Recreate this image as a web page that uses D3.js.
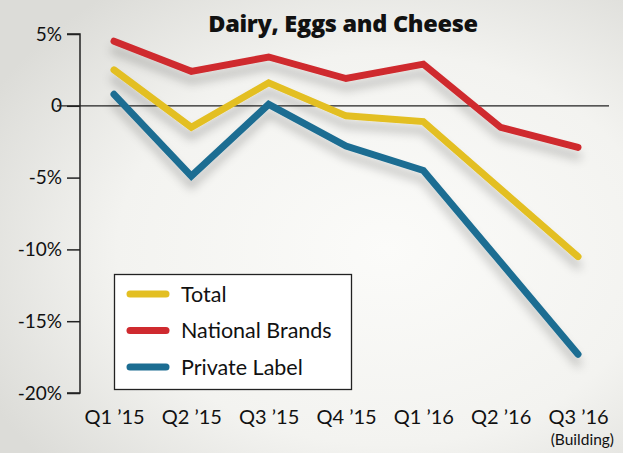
<!DOCTYPE html>
<html>
<head>
<meta charset="utf-8">
<script src="https://d3js.org/d3.v7.min.js"></script>
<style>
  body { margin: 0; }
  svg { display: block; font-family: Lato, "Noto Sans", sans-serif; }
</style>
</head>
<body>
<svg id="chart"></svg>
<script>
var quarters = ["Q1 \u201915", "Q2 \u201915", "Q3 \u201915", "Q4 \u201915", "Q1 \u201916", "Q2 \u201916", "Q3 \u201916"];
var totalVals = [2.5, -1.5, 1.6, -0.7, -1.1, -5.8, -10.5];
var nationalVals = [4.5, 2.4, 3.4, 1.9, 2.9, -1.5, -2.9];
var privateVals = [0.8, -4.9, 0.1, -2.8, -4.5, -10.9, -17.3];
var yTicks = [5, 0, -5, -10, -15, -20];

var series = [
  { name: "Total", values: totalVals, color: "#e3bf22" },
  { name: "National Brands", values: nationalVals, color: "#cf2a2f" },
  { name: "Private Label", values: privateVals, color: "#1c6d92" }
];

var W = 623, H = 453;
var svg = d3.select("#chart").attr("width", W).attr("height", H);

var defs = svg.append("defs");
var bg = defs.append("radialGradient").attr("id", "bg")
  .attr("cx", "62%").attr("cy", "55%").attr("r", "72%");
bg.append("stop").attr("offset", "0%").attr("stop-color", "#fbfbf9");
bg.append("stop").attr("offset", "60%").attr("stop-color", "#f3f3f0");
bg.append("stop").attr("offset", "100%").attr("stop-color", "#dcdcd8");

var shadow = defs.append("filter").attr("id", "shadow")
  .attr("x", "-20%").attr("y", "-20%").attr("width", "140%").attr("height", "160%");
shadow.append("feDropShadow").attr("dx", 0).attr("dy", 9).attr("stdDeviation", 5)
  .attr("flood-color", "#000").attr("flood-opacity", 0.22);

svg.append("rect").attr("width", W).attr("height", H).attr("fill", "url(#bg)");

var x = d3.scalePoint().domain(quarters).range([114, 578]);
var y = d3.scaleLinear().domain([-20, 5]).range([393, 34]);

// title
svg.append("text").attr("x", 343).attr("y", 32).attr("text-anchor", "middle")
  .attr("font-size", 23.5).attr("font-weight", 800).attr("fill", "#111")
  .attr("font-family", "'Open Sans', Lato, sans-serif").attr("letter-spacing", -0.3)
  .text("Dairy, Eggs and Cheese");

// y axis
var yAxis = d3.axisLeft(y).tickValues(yTicks).tickSize(13).tickPadding(5)
  .tickFormat(function(d) { return d === 0 ? "0" : d + "%"; });
var gy = svg.append("g").attr("transform", "translate(80,0)").call(yAxis);
gy.select(".domain").attr("d", "M-13," + y(5) + "H0V" + y(-20) + "H-13")
  .attr("stroke", "#222").attr("stroke-width", 1.5);
gy.selectAll(".tick line").attr("stroke", "#222").attr("stroke-width", 1.5);
gy.selectAll(".tick text").attr("font-size", 19).attr("fill", "#111")
  .attr("font-family", "Lato, 'Noto Sans', sans-serif");

// zero line
svg.append("line").attr("x1", 57).attr("x2", 609).attr("y1", y(0)).attr("y2", y(0))
  .attr("stroke", "#222").attr("stroke-width", 1.3);

// x axis labels
var xAxis = d3.axisBottom(x).tickSize(0).tickPadding(0);
var gx = svg.append("g").attr("transform", "translate(0,424)").call(xAxis);
gx.select(".domain").remove();
gx.selectAll(".tick text").attr("font-size", 20).attr("fill", "#111")
  .attr("dy", 0).attr("y", 0).attr("font-family", "Lato, 'Noto Sans', sans-serif");
svg.append("text").attr("x", 614).attr("y", 445).attr("text-anchor", "end")
  .attr("font-size", 15.5).attr("fill", "#111").text("(Building)");

// lines
var line = d3.line().x(function(d, i) { return x(quarters[i]); }).y(function(d) { return y(d); });
svg.append("g").selectAll("path").data(series).enter().append("path")
  .attr("d", function(s) { return line(s.values); })
  .attr("fill", "none").attr("stroke", function(s) { return s.color; })
  .attr("stroke-width", 7).attr("stroke-linecap", "round").attr("stroke-linejoin", "miter")
  .attr("filter", "url(#shadow)");

// legend
var lg = svg.append("g");
lg.append("rect").attr("x", 114.5).attr("y", 274.5).attr("width", 237).attr("height", 115)
  .attr("fill", "#fff").attr("stroke", "#222").attr("stroke-width", 1.3);
var items = lg.selectAll("g.item").data(series).enter().append("g")
  .attr("transform", function(d, i) { return "translate(0," + (294 + i * 36.5) + ")"; });
items.append("line").attr("x1", 130).attr("x2", 166)
  .attr("stroke", function(d) { return d.color; }).attr("stroke-width", 7).attr("stroke-linecap", "round");
items.append("text").attr("x", 181).attr("y", 0).attr("dy", "0.35em")
  .attr("font-size", 21.5).attr("fill", "#111").text(function(d) { return d.name; });
</script>
</body>
</html>
